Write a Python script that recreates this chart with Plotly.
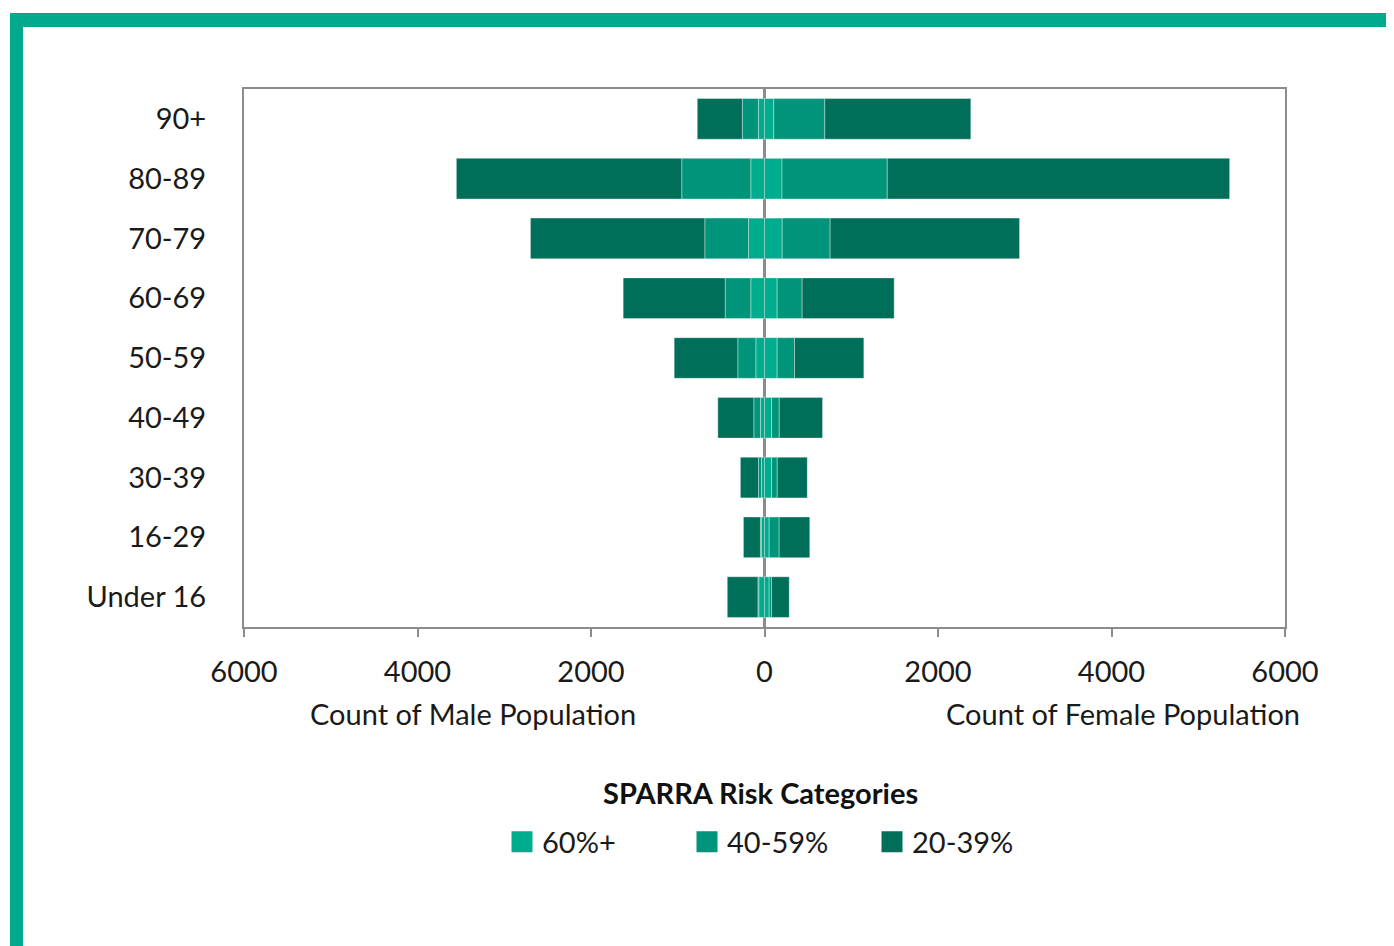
import plotly.graph_objects as go

# ---------------- data ----------------
age_groups = ["90+", "80-89", "70-79", "60-69", "50-59", "40-49", "30-39", "16-29", "Under 16"]
risk_categories = ["60%+", "40-59%", "20-39%"]

male_60 = [70, 158, 184, 158, 100, 46, 35, 35, 66]
male_40 = [185, 796, 504, 295, 208, 77, 35, 12, 10]
male_20 = [520, 2598, 2010, 1176, 733, 415, 208, 196, 353]

female_60 = [107, 202, 204, 146, 146, 81, 81, 54, 54]
female_40 = [588, 1213, 553, 288, 200, 89, 66, 115, 27]
female_20 = [1683, 3947, 2183, 1061, 799, 499, 346, 353, 204]

tick_values = [-6000, -4000, -2000, 0, 2000, 4000, 6000]
tick_labels = ["6000", "4000", "2000", "0", "2000", "4000", "6000"]

colors = {"60%+": "#00AC8E", "40-59%": "#00957A", "20-39%": "#006F59"}
frame_color = "#00AA8C"
axis_gray = "#8C8C8C"
text_color = "#1a1a1a"
FONT = "Lato, 'Open Sans', sans-serif"
FS = 29

# ---------------- layout geometry ----------------
# page body has an 8px margin, so reference pixel positions are shifted by OFF
OFF = 8
W, H = 1394 - OFF, 946 - OFF
PL, PR, PT, PB = 244, 1285, 89, 627          # plot area in reference pixels
ML, MT = PL - OFF, PT - OFF
MR, MB = W - (PR - OFF), H - (PB - OFF)
PW, PH = W - ML - MR, H - MT - MB


def px_x(p):
    return (p - OFF - ML) / PW


def px_y(p):
    return 1 - (p - OFF - MT) / PH


fig = go.Figure()

male_series = [male_60, male_40, male_20]
female_series = [female_60, female_40, female_20]
edge = dict(color="rgba(255,255,255,0.35)", width=1)

for cat, vals in zip(risk_categories, male_series):
    fig.add_trace(go.Bar(
        y=age_groups, x=[-v for v in vals], orientation="h",
        name=cat, marker=dict(color=colors[cat], line=edge),
        showlegend=False, legendgroup=cat,
    ))
for cat, vals in zip(risk_categories, female_series):
    fig.add_trace(go.Bar(
        y=age_groups, x=vals, orientation="h",
        name=cat, marker=dict(color=colors[cat], line=edge),
        showlegend=False, legendgroup=cat,
    ))
# legend entries
for cat in risk_categories:
    fig.add_trace(go.Scatter(
        x=[None], y=[None], mode="markers", name=cat, legendgroup=cat,
        marker=dict(symbol="square", size=22, color=colors[cat],
                    line=dict(color=colors[cat], width=5)),
    ))

fig.update_layout(
    width=W, height=H,
    margin=dict(l=ML, r=MR, t=MT, b=MB, autoexpand=False),
    paper_bgcolor="white", plot_bgcolor="white",
    barmode="relative", bargap=0.32,
    font=dict(family=FONT, size=FS, color=text_color),
    showlegend=True,
    legend=dict(
        orientation="h", x=px_x(502), xanchor="left", y=px_y(842), yanchor="middle",
        font=dict(size=FS, family=FONT, color=text_color),
        entrywidth=140, itemclick=False, itemwidth=30,
    ),
    xaxis=dict(
        range=[-6000, 6000], tickvals=tick_values, ticktext=tick_labels,
        showline=True, mirror=True, linecolor=axis_gray, linewidth=2,
        ticks="outside", ticklen=8, tickcolor=axis_gray, tickwidth=2,
        showgrid=False, zeroline=True, zerolinecolor=axis_gray, zerolinewidth=3,
        layer="above traces", tickfont=dict(size=FS), ticklabelstandoff=10,
    ),
    yaxis=dict(
        categoryorder="array", categoryarray=age_groups, autorange="reversed",
        showline=True, mirror=True, linecolor=axis_gray, linewidth=2,
        ticks="", showgrid=False, ticklabelstandoff=30,
        tickfont=dict(size=FS),
    ),
    annotations=[
        dict(text="Count of Male Population", x=px_x(473), y=px_y(713),
             xref="paper", yref="paper", xanchor="center", yanchor="middle",
             showarrow=False, font=dict(size=FS, family=FONT, color=text_color)),
        dict(text="Count of Female Population", x=px_x(1123), y=px_y(713),
             xref="paper", yref="paper", xanchor="center", yanchor="middle",
             showarrow=False, font=dict(size=FS, family=FONT, color=text_color)),
        dict(text="<b>SPARRA Risk Categories</b>", x=px_x(760), y=px_y(792),
             xref="paper", yref="paper", xanchor="center", yanchor="middle",
             showarrow=False, font=dict(size=FS, family=FONT, color="#111")),
    ],
    shapes=[
        dict(type="rect", xref="paper", yref="paper", x0=px_x(10), x1=px_x(23),
             y0=px_y(946), y1=px_y(13), fillcolor=frame_color, line=dict(width=0)),
        dict(type="rect", xref="paper", yref="paper", x0=px_x(10), x1=px_x(1394),
             y0=px_y(27), y1=px_y(13), fillcolor=frame_color, line=dict(width=0)),
        dict(type="rect", xref="paper", yref="paper", x0=px_x(1388), x1=px_x(1390),
             y0=px_y(946), y1=px_y(13), fillcolor=frame_color, line=dict(width=0)),
    ],
)

fig.write_html("out.html")
